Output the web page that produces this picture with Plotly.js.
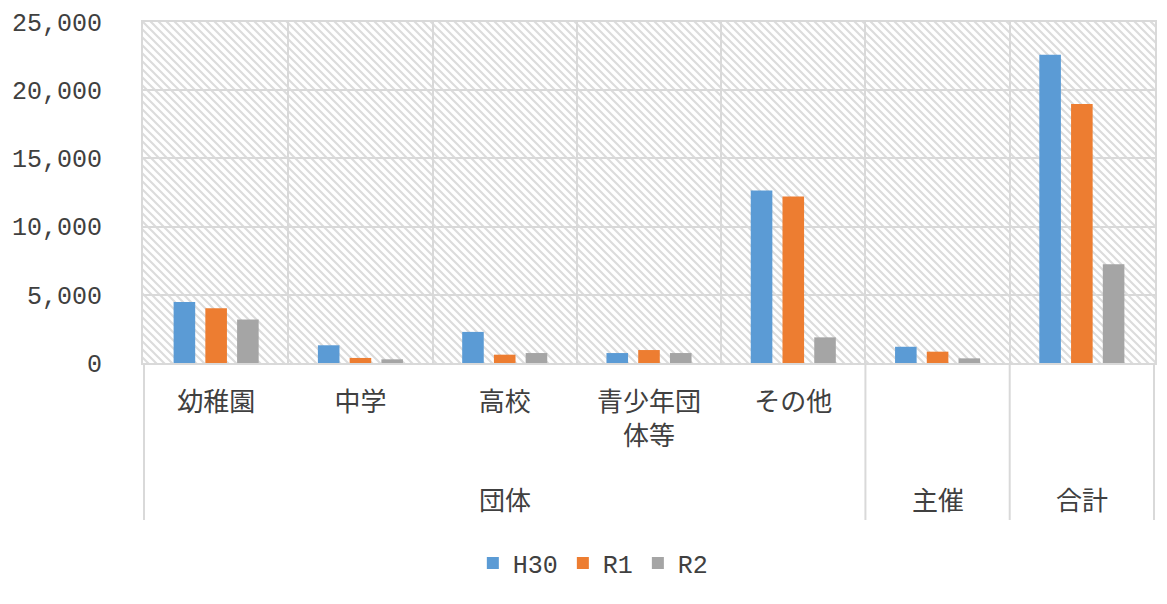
<!DOCTYPE html>
<html>
<head>
<meta charset="utf-8">
<script src="https://cdn.plot.ly/plotly-3.0.1.min.js"></script>
<style>
html,body{margin:0;padding:0;background:#fff;}
#chart{width:1167px;height:604px;}
</style>
</head>
<body>
<div id="chart"></div>
<script>
// Data
const groupLabels = ['団体','団体','団体','団体','団体','主催','合計'];
const subLabels = ['幼稚園','中学','高校','青少年団<br>体等','その他','',''];
const seriesNames = ['H30','R1','R2'];
const H30 = [4480, 1300, 2280, 730, 12650, 1190, 22590];
const R1  = [4020, 370, 610, 950, 12210, 830, 18980];
const R2  = [3180, 270, 730, 730, 1880, 340, 7240];
const yTickVals = [0, 5000, 10000, 15000, 20000, 25000];
const yTickText = ['0','5,000','10,000','15,000','20,000','25,000'];

const colors = ['#5b9bd5','#ed7d31','#a5a5a5'];
const values = [H30, R1, R2];

// unique category keys built from the two label levels
const keys = groupLabels.map((g, i) => g + '|' + i);

const traces = seriesNames.map((name, i) => ({
  type: 'bar',
  name: name,
  x: keys,
  y: values[i],
  marker: {color: colors[i], line: {width: 0}},
  hoverinfo: 'y+name'
}));

// group extents (outer level)
const groups = [];
groupLabels.forEach((g, i) => {
  const last = groups[groups.length - 1];
  if (last && last.name === g) last.end = i; else groups.push({name: g, start: i, end: i});
});

const W = 1167, H = 604;
const m = {l: 143, r: 12, t: 22, b: 241};
const pw = W - m.l - m.r, ph = H - m.t - m.b;
const hatch = '<svg xmlns="http://www.w3.org/2000/svg" width="' + pw + '" height="' + ph + '">' +
  '<defs><pattern id="p" width="8" height="8" patternUnits="userSpaceOnUse">' +
  '<path d="M-2,-2 L10,10 M-2,6 L2,10 M6,-2 L10,2" stroke="#dcdcdc" stroke-width="2.2"/></pattern></defs>' +
  '<rect width="100%" height="100%" fill="#fff"/><rect width="100%" height="100%" fill="url(#p)"/></svg>';
const hatchURI = 'data:image/svg+xml;charset=utf-8,' + encodeURIComponent(hatch);

const font = '"Noto Sans CJK JP", "Noto Sans", sans-serif';
const monoFont = '"Liberation Mono", "DejaVu Sans Mono", monospace';
const gray = '#d9d9d9';
const textColor = '#404040';

const dividerBottom = -(520 - 363) / ph;
const outerLabelY = -(498 - 363) / ph;

const shapes = [];
const boundaries = new Set();
groups.forEach(gr => { boundaries.add(gr.start - 0.5); boundaries.add(gr.end + 0.5); });
boundaries.forEach(b => shapes.push({
  type: 'line', xref: 'x', yref: 'paper', x0: b, x1: b, y0: 0, y1: dividerBottom,
  line: {color: gray, width: 2}
}));

const annotations = groups.map(gr => ({
  xref: 'x', yref: 'paper', x: (gr.start + gr.end) / 2, y: outerLabelY,
  text: gr.name, showarrow: false, xanchor: 'center', yanchor: 'middle',
  font: {family: font, size: 26, color: textColor}
}));

const layout = {
  width: W, height: H,
  margin: m,
  paper_bgcolor: '#ffffff',
  plot_bgcolor: '#ffffff',
  barmode: 'group',
  bargap: 0.34,
  bargroupgap: 0.32,
  font: {family: font, size: 26, color: textColor},
  showlegend: true,
  legend: {
    orientation: 'h', x: 0.445, xanchor: 'center', y: -0.587, yanchor: 'middle',
    font: {family: monoFont, size: 25, color: textColor}, itemwidth: 30, traceorder: 'normal'
  },
  xaxis: {
    type: 'category',
    categoryorder: 'array', categoryarray: keys,
    tickmode: 'array', tickvals: keys, ticktext: subLabels,
    tickson: 'boundaries',
    showgrid: true, gridcolor: gray, gridwidth: 2,
    showline: true, linecolor: gray, linewidth: 2, mirror: true,
    ticks: '', ticklabelstandoff: 15,
    tickfont: {size: 26, color: textColor}
  },
  yaxis: {
    range: [0, 25000],
    tickvals: yTickVals, ticktext: yTickText,
    showgrid: true, gridcolor: gray, gridwidth: 2,
    showline: true, linecolor: gray, linewidth: 2, mirror: true,
    zeroline: false, ticks: '', ticklen: 0, ticklabelstandoff: 34,
    tickfont: {family: monoFont, size: 25, color: textColor}
  },
  shapes: shapes,
  annotations: annotations,
  images: [{
    source: hatchURI, xref: 'paper', yref: 'paper',
    x: 0, y: 1, sizex: 1, sizey: 1, sizing: 'stretch',
    xanchor: 'left', yanchor: 'top', layer: 'below'
  }]
};

Plotly.newPlot('chart', traces, layout, {displayModeBar: false, staticPlot: true});
</script>
</body>
</html>
